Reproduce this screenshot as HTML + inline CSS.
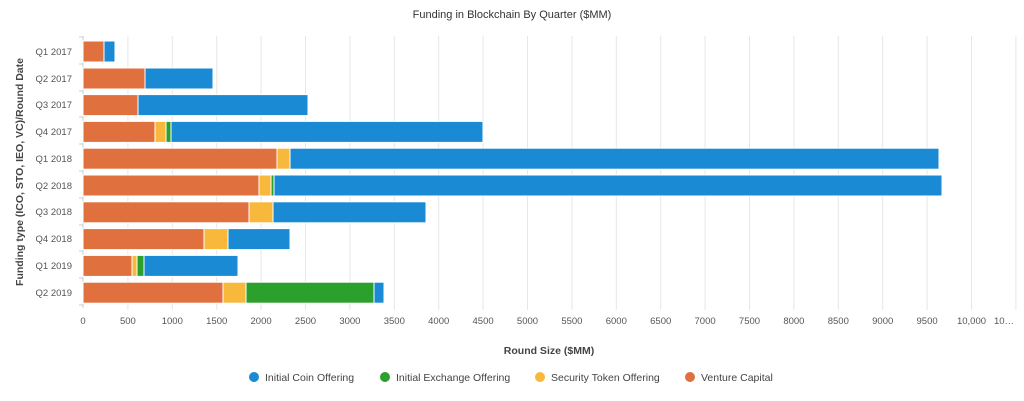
<!DOCTYPE html>
<html><head><meta charset="utf-8"><style>
html,body{margin:0;padding:0;background:#fff;}
svg{display:block;font-family:"Liberation Sans",Arial,sans-serif;}
</style></head><body>
<svg width="1024" height="401" viewBox="0 0 1024 401" xmlns="http://www.w3.org/2000/svg">
<text x="512" y="18" font-size="11" text-anchor="middle" fill="#333">Funding in Blockchain By Quarter ($MM)</text>
<g stroke="#e6e6e6" stroke-width="1">
<line x1="127.9" y1="36" x2="127.9" y2="310"/><line x1="172.3" y1="36" x2="172.3" y2="310"/>
<line x1="216.7" y1="36" x2="216.7" y2="310"/><line x1="261.1" y1="36" x2="261.1" y2="310"/>
<line x1="305.5" y1="36" x2="305.5" y2="310"/><line x1="349.9" y1="36" x2="349.9" y2="310"/>
<line x1="394.3" y1="36" x2="394.3" y2="310"/><line x1="438.7" y1="36" x2="438.7" y2="310"/>
<line x1="483.1" y1="36" x2="483.1" y2="310"/><line x1="527.5" y1="36" x2="527.5" y2="310"/>
<line x1="571.9" y1="36" x2="571.9" y2="310"/><line x1="616.3" y1="36" x2="616.3" y2="310"/>
<line x1="660.7" y1="36" x2="660.7" y2="310"/><line x1="705.1" y1="36" x2="705.1" y2="310"/>
<line x1="749.5" y1="36" x2="749.5" y2="310"/><line x1="793.9" y1="36" x2="793.9" y2="310"/>
<line x1="838.3" y1="36" x2="838.3" y2="310"/><line x1="882.7" y1="36" x2="882.7" y2="310"/>
<line x1="927.1" y1="36" x2="927.1" y2="310"/><line x1="971.5" y1="36" x2="971.5" y2="310"/>
<line x1="1015.9" y1="36" x2="1015.9" y2="310"/>
</g>
<line x1="83" y1="36" x2="83" y2="308" stroke="#ccc"/>
<g stroke="#ccc"><line x1="79" y1="37" x2="83" y2="37"/><line x1="79" y1="64" x2="83" y2="64"/><line x1="79" y1="91" x2="83" y2="91"/><line x1="79" y1="117" x2="83" y2="117"/><line x1="79" y1="144" x2="83" y2="144"/><line x1="79" y1="171" x2="83" y2="171"/><line x1="79" y1="198" x2="83" y2="198"/><line x1="79" y1="225" x2="83" y2="225"/><line x1="79" y1="251" x2="83" y2="251"/><line x1="79" y1="278" x2="83" y2="278"/><line x1="79" y1="305" x2="83" y2="305"/></g>
<g stroke="#fff" stroke-width="1">
<!-- Q1 2017 y41 -->
<rect x="83" y="41" width="21" height="21" fill="#e0703d"/><rect x="104" y="41" width="11" height="21" fill="#1a8ad4"/>
<rect x="83" y="68" width="62" height="21" fill="#e0703d"/><rect x="145" y="68" width="68" height="21" fill="#1a8ad4"/>
<rect x="83" y="94.6" width="55" height="21" fill="#e0703d"/><rect x="138" y="94.6" width="170" height="21" fill="#1a8ad4"/>
<rect x="83" y="121.4" width="72" height="21" fill="#e0703d"/><rect x="155" y="121.4" width="11" height="21" fill="#f8b83c"/><rect x="166" y="121.4" width="5" height="21" fill="#2ca02c"/><rect x="171" y="121.4" width="312" height="21" fill="#1a8ad4"/>
<rect x="83" y="148.2" width="194" height="21" fill="#e0703d"/><rect x="277" y="148.2" width="13" height="21" fill="#f8b83c"/><rect x="290" y="148.2" width="649" height="21" fill="#1a8ad4"/>
<rect x="83" y="175" width="176" height="21" fill="#e0703d"/><rect x="259" y="175" width="12" height="21" fill="#f8b83c"/><rect x="271" y="175" width="3" height="21" fill="#2ca02c"/><rect x="274" y="175" width="668" height="21" fill="#1a8ad4"/>
<rect x="83" y="201.8" width="166" height="21" fill="#e0703d"/><rect x="249" y="201.8" width="24" height="21" fill="#f8b83c"/><rect x="273" y="201.8" width="153" height="21" fill="#1a8ad4"/>
<rect x="83" y="228.6" width="121" height="21" fill="#e0703d"/><rect x="204" y="228.6" width="24" height="21" fill="#f8b83c"/><rect x="228" y="228.6" width="62" height="21" fill="#1a8ad4"/>
<rect x="83" y="255.4" width="49" height="21" fill="#e0703d"/><rect x="132" y="255.4" width="5" height="21" fill="#f8b83c"/><rect x="137" y="255.4" width="7" height="21" fill="#2ca02c"/><rect x="144" y="255.4" width="94" height="21" fill="#1a8ad4"/>
<rect x="83" y="282.2" width="140" height="21" fill="#e0703d"/><rect x="223" y="282.2" width="23" height="21" fill="#f8b83c"/><rect x="246" y="282.2" width="128" height="21" fill="#2ca02c"/><rect x="374" y="282.2" width="10" height="21" fill="#1a8ad4"/>
</g>
<g font-size="9.5" fill="#555" text-anchor="end">
<text x="72" y="55">Q1 2017</text><text x="72" y="82">Q2 2017</text><text x="72" y="108">Q3 2017</text><text x="72" y="135">Q4 2017</text><text x="72" y="162">Q1 2018</text><text x="72" y="189">Q2 2018</text><text x="72" y="215">Q3 2018</text><text x="72" y="242">Q4 2018</text><text x="72" y="269">Q1 2019</text><text x="72" y="296">Q2 2019</text>
</g>
<g font-size="9.5" fill="#555" text-anchor="middle">
<text x="83" y="324">0</text><text x="127.9" y="324">500</text><text x="172.3" y="324">1000</text><text x="216.7" y="324">1500</text><text x="261.1" y="324">2000</text><text x="305.5" y="324">2500</text><text x="349.9" y="324">3000</text><text x="394.3" y="324">3500</text><text x="438.7" y="324">4000</text><text x="483.1" y="324">4500</text><text x="527.5" y="324">5000</text><text x="571.9" y="324">5500</text><text x="616.3" y="324">6000</text><text x="660.7" y="324">6500</text><text x="705.1" y="324">7000</text><text x="749.5" y="324">7500</text><text x="793.9" y="324">8000</text><text x="838.3" y="324">8500</text><text x="882.7" y="324">9000</text><text x="927.1" y="324">9500</text><text x="971.5" y="324">10,000</text><text x="1004" y="324">10…</text>
</g>
<text x="549" y="354" font-size="10.5" font-weight="bold" fill="#444" text-anchor="middle">Round Size ($MM)</text>
<text transform="translate(23,172) rotate(-90)" font-size="10.5" font-weight="bold" fill="#444" text-anchor="middle">Funding type (ICO, STO, IEO, VC)/Round Date</text>
<g font-size="10.5" fill="#444">
<circle cx="254" cy="377" r="5" fill="#1a8ad4"/><text x="265" y="381">Initial Coin Offering</text>
<circle cx="385" cy="377" r="5" fill="#2ca02c"/><text x="396" y="381">Initial Exchange Offering</text>
<circle cx="540" cy="377" r="5" fill="#f8b83c"/><text x="551" y="381">Security Token Offering</text>
<circle cx="690" cy="377" r="5" fill="#e0703d"/><text x="701" y="381">Venture Capital</text>
</g>
</svg>
</body></html>
